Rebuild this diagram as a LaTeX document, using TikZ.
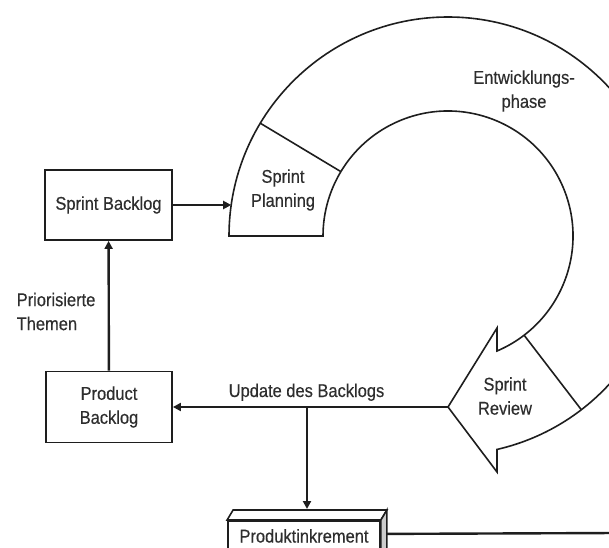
\documentclass[tikz,border=0pt]{standalone}
\usepackage{fontspec}
\setmainfont[FakeStretch=0.89,FakeBold=0.4]{Liberation Sans}
\usetikzlibrary{arrows.meta,calc}
\definecolor{ink}{HTML}{1E1E1E}
\definecolor{txtc}{HTML}{2E2E2E}
\begin{document}
\begin{tikzpicture}[x=1pt,y=1pt,
  ring/.style={draw=ink, line width=1.6pt, line join=miter},
  box/.style={draw=ink, line width=1.8pt, fill=white, text=txtc, inner sep=0pt,
    font=\fontsize{18.5}{24}\selectfont},
  txt/.style={text=txtc, inner sep=0pt, font=\fontsize{18.5}{24}\selectfont},
  arr/.style={draw=ink, line width=2.4pt, -{Triangle[length=8pt,width=8pt]}},
  conn/.style={draw=ink, line width=2.4pt}]
\useasboundingbox (0,0) rectangle (609,547);
\coordinate (C) at (448,311);
\def\Ro{219}
\def\Ri{125}
\coordinate (tip) at (448,140);
% ring with arrow head (Sprint Review)
\draw[ring] ($(C)+(180:\Ri)$) -- ($(C)+(180:\Ro)$)
  arc[start angle=180, end angle=-77.07, radius=\Ro]
  -- (497,75) -- (tip) -- (497,219)
  -- ($(C)+(-66.92:\Ri)$)
  arc[start angle=-66.92, end angle=180, radius=\Ri] -- cycle;
\draw[ring] ($(C)+(149:\Ri)$) -- ($(C)+(149:\Ro)$);
\draw[ring] ($(C)+(-52.5:\Ri)$) -- ($(C)+(-52.5:\Ro)$);
% texts in the ring
\node[txt, align=center] (spl) at (283,357) {Sprint\\Planning};
\node[txt, align=center] (srv) at (505,151) {Sprint\\Review};
\node[txt, align=center] (ent) at (524,456) {Entwicklungs-\\phase};
% boxes
\node[box, minimum width=127pt, minimum height=70pt] (sb) at (108.5,342) {Sprint Backlog};
\node[box, minimum width=126pt, minimum height=71pt, align=center] (pb) at (109,140) {Product\\Backlog};
\node[txt, align=left, anchor=west] (prio) at (16.5,235.5) {Priorisierte\\Themen};
\node[txt, anchor=base] (upd) at (306.5,150) {Update des Backlogs};
% Produktinkrement (3D box)
\node[box, anchor=north, minimum width=152pt, minimum height=36pt] (pi) at (304,27) {};
\node[txt] (pitxt) at ($(pi.center)+(0,3)$) {Produktinkrement};
\draw[ring, fill=white] (pi.north west) -- ++(6,10) -- ($(pi.north east)+(6,10)$) -- (pi.north east) -- cycle;
\draw[ring, fill=gray!40] (pi.north east) -- ++(6,10) -- ($(pi.south east)+(6,10)$) -- (pi.south east) -- cycle;
% connectors
\coordinate (planin) at (231.2,342);
\coordinate (drop) at (307,140);
\coordinate (pitop) at ($(pi.north)+(3,11)$);
\coordinate (edge) at (615,14);
\draw[arr] (pb) -- (sb);
\draw[arr] (sb) -- (planin);
\draw[arr] (tip) -- (pb);
\draw[arr] (drop) -- (pitop);
\draw[conn] ($(pi.east)+(6,5)$) -- (edge);
\end{tikzpicture}
\end{document}
